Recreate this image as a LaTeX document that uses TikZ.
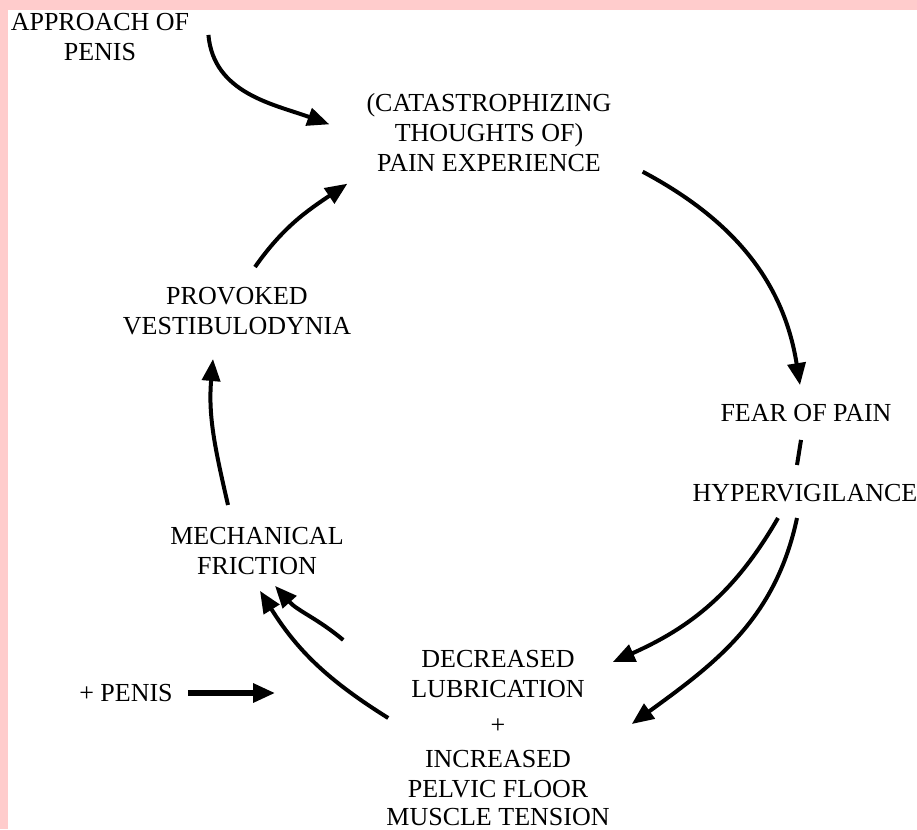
\documentclass[tikz,border=0pt]{standalone}
\usepackage{fontspec}
\setmainfont{Liberation Serif}
\usetikzlibrary{arrows.meta}
\definecolor{framepink}{RGB}{255,204,204}
\begin{document}
\begin{tikzpicture}[x=1pt,y=-1pt,
	every node/.style={align=center,inner sep=0pt,font=\fontsize{26}{30}\selectfont},
	link/.style={line width=4pt},
	flow/.style={link,-{Triangle[length=22pt,width=18pt]}}]
\useasboundingbox (0,0) rectangle (917,829);
\fill[framepink] (0,0) rectangle (917,829);
\fill[white] (8,10) rectangle (917,829);
% the cycle
\node[anchor=north] (approach) at (100,13) {APPROACH OF\\PENIS};
\node[anchor=north] (pain) at (489,93) {(CATASTROPHIZING\\THOUGHTS OF)\\PAIN EXPERIENCE};
\node (fear) at (806,413) {FEAR OF PAIN};
\node (hyper) at (805,493) {HYPERVIGILANCE};
\node[anchor=north] (tension) at (498,650) {DECREASED\\LUBRICATION\\[6pt]+\\[4pt]INCREASED\\PELVIC FLOOR\\[-2pt]MUSCLE TENSION};
\node (penis) at (126,693) {+ PENIS};
\node[anchor=north] (friction) at (257,527) {MECHANICAL\\FRICTION};
\node[anchor=north] (pvd) at (237,287) {PROVOKED\\VESTIBULODYNIA};
% arrows
\draw[flow] ([xshift=19pt,yshift=2pt]approach.east) to[out=-85,in=160] ([xshift=-37pt,yshift=8pt]pain.west);
\draw[flow] ([xshift=31pt]pain.south east) to[out=-28,in=99] ([xshift=-6pt,yshift=19pt]fear.north);
\draw[link] ([xshift=-5pt,yshift=-18pt]fear.south) -- ([xshift=-8pt,yshift=19pt]hyper.north);
\draw[flow] ([xshift=-27pt,yshift=-16pt]hyper.south) to[out=-120,in=24] ([xshift=3pt,yshift=-12pt]tension.north east);
\draw[flow] ([xshift=-8pt,yshift=-16pt]hyper.south) to[out=-102,in=36] ([xshift=22pt,yshift=-74pt]tension.north east);
\draw[flow,line width=5.5pt] (penis.east) [shorten <=15pt,shorten >=111pt] -- (penis.east -| tension.west);
\draw[flow] ([xshift=-43pt,yshift=10pt]tension.north west) to[out=140,in=-48] ([xshift=18pt,yshift=-11pt]friction.south);
\draw[flow] ([xshift=2pt,yshift=-68pt]tension.north west) to[out=148,in=-58] ([xshift=3pt,yshift=-16pt]friction.south);
\draw[flow] ([xshift=-29pt,yshift=22pt]friction.north) to[out=103,in=-95] ([xshift=-24pt,yshift=-24pt]pvd.south);
\draw[flow] ([xshift=18pt,yshift=20pt]pvd.north) to[out=55,in=-146] ([xshift=-19pt,yshift=-12pt]pain.south west);
\end{tikzpicture}
\end{document}
